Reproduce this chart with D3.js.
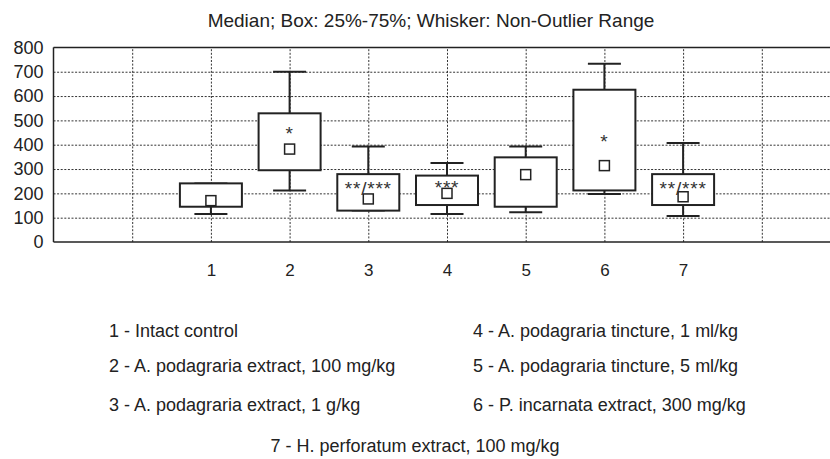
<!DOCTYPE html>
<html>
<head>
<meta charset="utf-8">
<script src="https://cdn.jsdelivr.net/npm/d3@7"></script>
<style>
  body { margin: 0; background: #fff; }
  svg { display: block; font-family: "Liberation Sans", Arial, sans-serif; }
  .grid line { stroke: #333; stroke-width: 1; stroke-dasharray: 2,1.6; }
  .grid path { display: none; }
</style>
</head>
<body>
<svg id="chart" width="830" height="459"></svg>
<script>
// Groups and box statistics
var groups = [1, 2, 3, 4, 5, 6, 7];
var median = [170, 382, 177, 200, 277, 314, 186];
var q1 = [145, 295, 129, 152, 145, 212, 152];
var q3 = [241, 529, 279, 273, 348, 626, 279];
var whiskerLow = [115, 212, 129, 115, 122, 197, 107];
var whiskerHigh = [241, 700, 393, 325, 393, 733, 407];
var marks = ["", "*", "**/***", "***", "", "*", "**/***"];
var markAt = [null, 464, 238, 241, null, 430, 238];

var yTicks = [0, 100, 200, 300, 400, 500, 600, 700, 800];
var xGrid = [0, 1, 2, 3, 4, 5, 6, 7, 8];

var legendLeft = [
  "1 - Intact control",
  "2 - A. podagraria extract, 100 mg/kg",
  "3 - A. podagraria extract, 1 g/kg"
];
var legendRight = [
  "4 - A. podagraria tincture, 1 ml/kg",
  "5 - A. podagraria tincture, 5 ml/kg",
  "6 - P. incarnata extract, 300 mg/kg"
];
var legendLast = "7 - H. perforatum extract, 100 mg/kg";

const svg = d3.select("#chart");
const ink = "#222";

// Scales
const x = d3.scaleLinear().domain([-1, 9]).range([53.5, 840.5]);
const y = d3.scaleLinear().domain([0, 800]).range([242, 47.4]);
const plotTop = y(800), plotBottom = y(0), plotLeft = x(-1);

// Title
svg.append("text")
  .attr("x", 431)
  .attr("y", 27)
  .attr("text-anchor", "middle")
  .attr("font-size", 19)
  .attr("fill", ink)
  .text("Median; Box: 25%-75%; Whisker: Non-Outlier Range");

// Grid
svg.append("g")
  .attr("class", "grid")
  .attr("transform", "translate(0," + plotBottom + ")")
  .call(d3.axisBottom(x).tickValues(xGrid).tickSizeInner(-(plotBottom - plotTop)).tickSizeOuter(0).tickFormat(""));

svg.append("g")
  .attr("class", "grid")
  .attr("transform", "translate(" + plotLeft + ",0)")
  .call(d3.axisLeft(y).tickValues(yTicks.slice(1, -1)).tickSizeInner(-900).tickSizeOuter(0).tickFormat(""));

// Frame: left, top, bottom
svg.append("line").attr("x1", plotLeft).attr("x2", plotLeft).attr("y1", plotTop).attr("y2", plotBottom)
  .attr("stroke", ink).attr("stroke-width", 1.5);
svg.append("line").attr("x1", plotLeft).attr("x2", 830).attr("y1", plotTop).attr("y2", plotTop)
  .attr("stroke", ink).attr("stroke-width", 1.5);
svg.append("line").attr("x1", plotLeft).attr("x2", 830).attr("y1", plotBottom).attr("y2", plotBottom)
  .attr("stroke", ink).attr("stroke-width", 1.5);

// Y axis labels
const yAxis = svg.append("g")
  .attr("transform", "translate(" + plotLeft + ",0)")
  .call(d3.axisLeft(y).tickValues(yTicks).tickSize(0).tickPadding(10));
yAxis.select(".domain").remove();
yAxis.selectAll("text").attr("font-size", 18).attr("fill", ink);
yAxis.attr("font-family", null).attr("font-size", null);

// X axis labels
const xAxis = svg.append("g")
  .attr("transform", "translate(0," + plotBottom + ")")
  .call(d3.axisBottom(x).tickValues(groups).tickSize(0).tickPadding(22));
xAxis.select(".domain").remove();
xAxis.selectAll("text").attr("font-size", 17).attr("fill", ink);
xAxis.attr("font-family", null).attr("font-size", null);

// Boxes
const boxW = 62, capW = 33, sq = 10;
const data = groups.map(function(g, i) {
  return { g: g, med: median[i], lo: q1[i], hi: q3[i], wl: whiskerLow[i], wh: whiskerHigh[i], mark: marks[i], markAt: markAt[i] };
});

const box = svg.selectAll(".box")
  .data(data)
  .enter()
  .append("g")
  .attr("class", "box");

box.append("line")
  .attr("x1", d => x(d.g)).attr("x2", d => x(d.g))
  .attr("y1", d => y(d.wl)).attr("y2", d => y(d.wh))
  .attr("stroke", ink).attr("stroke-width", 2);

box.selectAll(".cap")
  .data(d => [{ g: d.g, v: d.wl }, { g: d.g, v: d.wh }])
  .enter()
  .append("line")
  .attr("class", "cap")
  .attr("x1", d => x(d.g) - capW / 2).attr("x2", d => x(d.g) + capW / 2)
  .attr("y1", d => y(d.v)).attr("y2", d => y(d.v))
  .attr("stroke", ink).attr("stroke-width", 2);

box.append("rect")
  .attr("x", d => x(d.g) - boxW / 2)
  .attr("width", boxW)
  .attr("y", d => y(d.hi))
  .attr("height", d => y(d.lo) - y(d.hi))
  .attr("fill", "#fff").attr("stroke", ink).attr("stroke-width", 2);

box.append("rect")
  .attr("x", d => x(d.g) - sq / 2)
  .attr("y", d => y(d.med) - sq / 2)
  .attr("width", sq).attr("height", sq)
  .attr("fill", "#fff").attr("stroke", ink).attr("stroke-width", 1.5);

// significance marks, asterisk glyph centre sits ~0.57em above baseline
box.filter(d => d.mark)
  .append("text")
  .attr("x", d => x(d.g))
  .attr("y", d => y(d.markAt) + 11)
  .attr("text-anchor", "middle")
  .attr("font-size", 19)
  .attr("letter-spacing", 0.8)
  .attr("fill", "#333")
  .text(d => d.mark);

// Legend
const legend = svg.append("g").attr("font-size", 18).attr("fill", ink);
const rowY = [337, 372, 411];
legend.selectAll(".l1").data(legendLeft).enter().append("text")
  .attr("x", 109).attr("y", (d, i) => rowY[i]).text(d => d);
legend.selectAll(".l2").data(legendRight).enter().append("text")
  .attr("x", 473).attr("y", (d, i) => rowY[i]).text(d => d);
legend.append("text")
  .attr("x", 415).attr("y", 452).attr("text-anchor", "middle").text(legendLast);
</script>
</body>
</html>
